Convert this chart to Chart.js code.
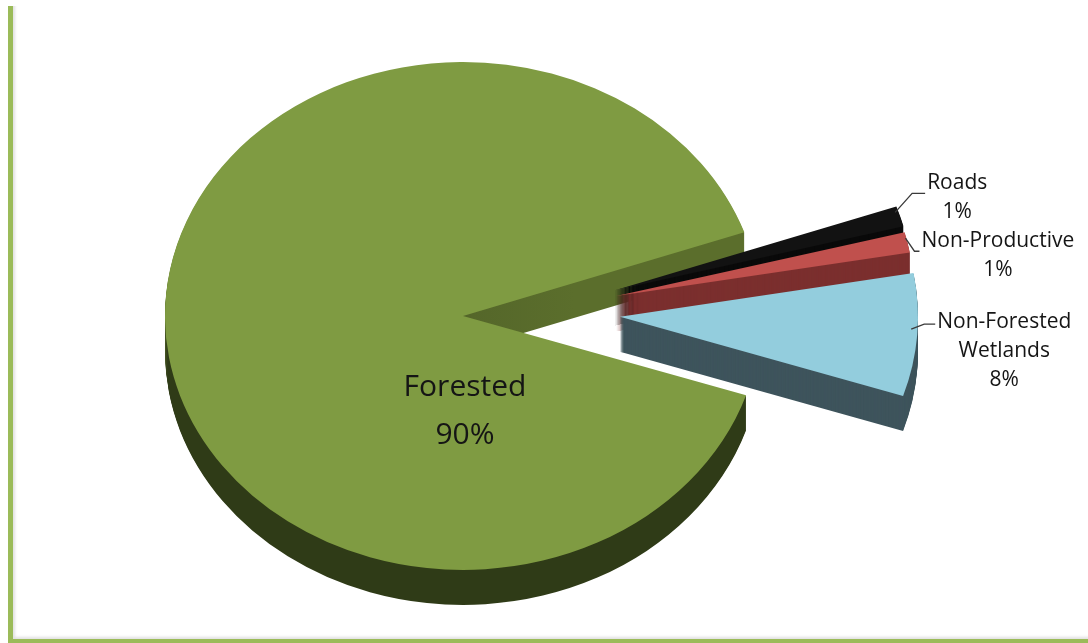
<!DOCTYPE html>
<html>
<head>
<meta charset="utf-8">
<script src="https://cdn.jsdelivr.net/npm/chart.js@4.4.1/dist/chart.umd.min.js"></script>
<style>
  html, body { margin: 0; padding: 0; background: #fff; }
  #wrap { position: relative; width: 1088px; height: 643px; overflow: hidden; }
  #frame {
    position: absolute; left: 8px; top: 6px; width: 1100px; height: 633px;
    border-left: 5px solid #9BBB59; border-bottom: 5px solid #9BBB59;
    box-shadow: inset 3px -3px 3px -1px rgba(0, 0, 0, 0.12);
  }
  canvas { position: absolute; left: 0; top: 0; }
</style>
</head>
<body>
<div id="wrap">
  <div id="frame"></div>
  <canvas id="landChart" width="1088" height="643"></canvas>
</div>
<script>
// land use shares (percent) - slice sizes, labels round them
const categories = ["Forested", "Roads", "Non-Productive", "Non-Forested Wetlands"];
const labelLines = [["Forested"], ["Roads"], ["Non-Productive"], ["Non-Forested", "Wetlands"]];
const shares = [89.6, 1.3, 1.3, 7.8];

const topColors = ["#7F9B42", "#121212", "#C0504D", "#93CDDD"];
const sideColors = [null, "#0a0a0a", "#7B2F2E", "#3E545C"];

// direction a slice gets pulled out in (excel squeezes it toward the x axis)
function explodeDir(arc, opts) {
  const mid = (arc.startAngle + arc.endAngle) / 2;
  return Math.atan2(Math.sin(mid), Math.cos(mid)) * opts.spread + opts.dirShift * Math.PI / 180;
}

// draws the pie flattened + extruded to look like the excel 3d pie
const pie3d = {
  id: "pie3d",
  beforeDatasetsDraw(chart, args, opts) {
    const ctx = chart.ctx;
    const meta = chart.getDatasetMeta(0);
    const ds = chart.data.datasets[0];
    const K = opts.tilt;

    const drawArc = (arc, i, dy, fill) => {
      const dir = explodeDir(arc, opts);
      const ex = ds.explode[i] || 0;
      ctx.save();
      ctx.translate(0, dy);
      ctx.translate(arc.x, arc.y);
      ctx.scale(1, K);
      ctx.translate(-arc.x, -arc.y);
      ctx.translate(Math.cos(dir) * ex, Math.sin(dir) * ex);
      const fake = Object.create(arc);
      fake.options = Object.assign({}, arc.options, { backgroundColor: fill, borderWidth: 0, offset: 0 });
      arc.draw.call(fake, ctx);
      ctx.restore();
    };

    const arc0 = meta.data[0];
    const forestSide = ctx.createLinearGradient(0, arc0.y - 40, 0, arc0.y + 40);
    forestSide.addColorStop(0, "#5B6E2C");
    forestSide.addColorStop(0.45, "#55672A");
    forestSide.addColorStop(1, "#2F3B17");

    for (let d = opts.depth; d > 0; d--) {
      meta.data.forEach((arc, i) => drawArc(arc, i, d, i === 0 ? forestSide : sideColors[i]));
    }
    meta.data.forEach((arc, i) => drawArc(arc, i, 0, arc.options.backgroundColor));
    return false;
  },
  afterDraw(chart, args, opts) {
    const ctx = chart.ctx;
    const meta = chart.getDatasetMeta(0);
    const ds = chart.data.datasets[0];
    const K = opts.tilt;
    const total = shares.reduce((a, b) => a + b, 0);
    const pct = (v) => Math.round(v / total * 100) + "%";

    ctx.save();
    ctx.fillStyle = "#151515";
    ctx.textAlign = "center";
    ctx.textBaseline = "middle";

    // big slice label, inside
    const a0 = meta.data[0];
    ctx.font = '30px "Open Sans"';
    ctx.fillText(labelLines[0][0], a0.x + 2, a0.y + 71);
    ctx.fillText(pct(shares[0]), a0.x + 2, a0.y + 119);

    // small slices, leader lines + labels on the right
    ctx.font = '21px "Open Sans"';
    meta.data.forEach((arc, i) => {
      if (i === 0) return;
      const lead = opts.leaders[i];
      const mid = (arc.startAngle + arc.endAngle) / 2;
      const dir = explodeDir(arc, opts);
      const exd = ds.explode[i] || 0;
      const ex = arc.x + Math.cos(dir) * exd + Math.cos(mid) * arc.outerRadius + lead[0];
      const ey = arc.y + (Math.sin(dir) * exd + Math.sin(mid) * arc.outerRadius) * K + lead[1];
      const bx = ex + lead[2], by = ey + lead[3];
      const lx = bx + lead[4];
      ctx.strokeStyle = "#3a3a3a";
      ctx.lineWidth = 1.3;
      ctx.beginPath();
      ctx.moveTo(ex, ey);
      ctx.lineTo(bx, by);
      ctx.lineTo(lx, by);
      ctx.stroke();

      const lines = labelLines[i].concat([pct(shares[i])]);
      const w = Math.max(...lines.map((t) => ctx.measureText(t).width));
      const cx = lx + 2 + w / 2;
      lines.forEach((t, k) => ctx.fillText(t, cx, by + lead[5] + k * 29));
    });
    ctx.restore();
  }
};

const ctx = document.getElementById("landChart").getContext("2d");
const landChart = new Chart(ctx, {
  type: "pie",
  data: {
    labels: categories,
    datasets: [
      {
        data: shares,
        backgroundColor: topColors,
        borderWidth: 0,
        explode: [0, 155, 155, 157],
      },
    ],
  },
  options: {
    responsive: false,
    animation: false,
    events: [],
    rotation: 108.2,
    radius: 298,
    layout: { padding: { left: 0, right: 162, top: 0, bottom: 11 } },
    plugins: {
      legend: { display: false },
      tooltip: { enabled: false },
      pie3d: {
        tilt: 0.852,
        depth: 35,
        spread: 0.55,
        dirShift: -2,
        // [edge dx, edge dy, elbow dx, elbow dy, horizontal len, text dy]
        leaders: [null, [-5, -4, 17, -19, 13, -10], [-2, -4, 9, 13, 5, -10], [-6, -6, 13, -5, 11, -2]],
      },
    },
  },
  plugins: [pie3d],
});
</script>
</body>
</html>
